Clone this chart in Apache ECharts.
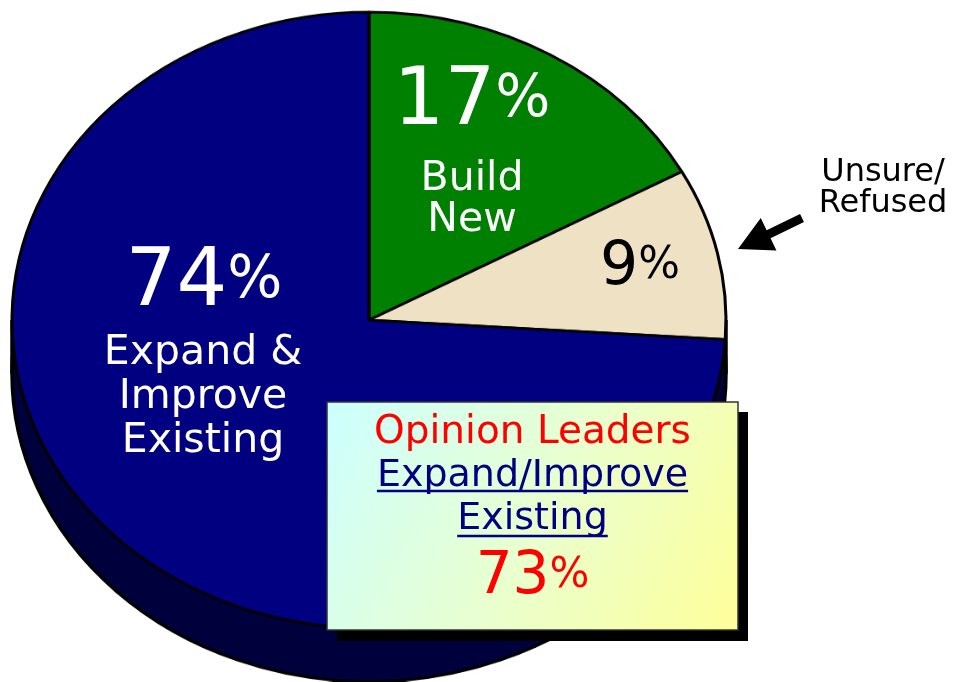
<!DOCTYPE html>
<html lang="en">
<head>
<meta charset="UTF-8" />
<title>Document</title>
<script src="https://cdn.jsdelivr.net/npm/echarts@6/dist/echarts.min.js"></script>
<style>
  html, body { margin: 0; padding: 0; background: #fff; }
  .wrap { position: relative; width: 956px; height: 682px; overflow: hidden; }
  /* pie is drawn round, then squashed into the tilted ellipse */
  .pie { position: absolute; left: 0; top: 0; width: 956px; height: 790px; transform: scaleY(0.8627); transform-origin: 0 0; }
  .labels { position: absolute; left: 0; top: 0; width: 956px; height: 682px; }
</style>
</head>
<body>
<div class="wrap">
  <div class="pie"></div>
  <div class="labels"></div>
</div>
<script>
// data
const categories = ['Build New', 'Unsure/Refused', 'Expand & Improve Existing'];
const values = [17, 9, 74];
const sliceNames = ['Build\nNew', '', 'Expand &\nImprove\nExisting'];
const sideNote = 'Unsure/\nRefused';
const boxTitle = 'Opinion Leaders';
const boxLines = ['Expand/Improve', 'Existing'];
const boxValue = 73;

const FONT = 'DejaVu Sans';
const sliceColors = ['#008000', '#efe1c3', '#000080'];

// pie geometry (unscaled space)
const cx = 369, cy = 371, R = 357, depth = 62;
const total = values.reduce((a, b) => a + b, 0);

const pieChart = echarts.init(document.querySelector('.pie'), null, { width: 956, height: 790 });
pieChart.setOption({
  animation: false,
  graphic: [
    { type: 'rect', shape: { x: cx - R, y: cy, width: 2 * R, height: depth }, style: { fill: '#00003c' } },
    { type: 'line', shape: { x1: cx - R, y1: cy, x2: cx - R, y2: cy + depth }, style: { stroke: '#000', lineWidth: 3.5 } },
    { type: 'line', shape: { x1: cx + R, y1: cy, x2: cx + R, y2: cy + depth }, style: { stroke: '#000', lineWidth: 3.5 } }
  ],
  series: [
    {
      // side / thickness of the pie
      type: 'pie', silent: true, z: 1,
      center: [cx, cy + depth], radius: R, startAngle: 90,
      data: [{ value: total }],
      itemStyle: { color: '#00003c', borderColor: '#000', borderWidth: 3.5 },
      label: { show: false }, labelLine: { show: false }
    },
    {
      type: 'pie', silent: true, z: 2,
      center: [cx, cy], radius: R, startAngle: 90, clockwise: true,
      data: categories.map((c, i) => ({ name: c, value: values[i], itemStyle: { color: sliceColors[i] } })),
      itemStyle: { borderColor: '#000', borderWidth: 3 },
      label: { show: false }, labelLine: { show: false }
    }
  ]
});

// labels, box, arrow (unscaled overlay)
const measure = document.createElement('canvas').getContext('2d');
function textWidth(s, size) {
  measure.font = size + 'px "' + FONT + '"';
  return measure.measureText(s).width;
}
function pctText(v, x, y, big, small, color) {
  return {
    type: 'text', x: x, y: y, z: 10,
    style: {
      text: '{n|' + v + '}{p|%}', align: 'center', verticalAlign: 'middle',
      rich: {
        n: { fontFamily: FONT, fontSize: big, lineHeight: big, fill: color, color: color },
        p: { fontFamily: FONT, fontSize: small, lineHeight: small, fill: color, color: color, padding: [0, 0, Math.round((big - small) * 0.2), 0] }
      }
    }
  };
}
function plainText(s, x, y, size, lh, color) {
  return {
    type: 'text', x: x, y: y, z: 10,
    style: { text: s, font: size + 'px "' + FONT + '"', fill: color, align: 'center', verticalAlign: 'middle', lineHeight: lh }
  };
}

// arrow pointing at the small slice
const tail = [802, 218], tip = [738, 249];
const dx = tip[0] - tail[0], dy = tip[1] - tail[1];
const len = Math.hypot(dx, dy);
const ux = dx / len, uy = dy / len, px = -uy, py = ux;
const headLen = 34, headW = 18, shaftW = 4.5;
const bx = tip[0] - ux * headLen, by = tip[1] - uy * headLen;
const arrowPts = [
  [tail[0] + px * shaftW, tail[1] + py * shaftW],
  [bx + px * shaftW, by + py * shaftW],
  [bx + px * headW, by + py * headW],
  tip,
  [bx - px * headW, by - py * headW],
  [bx - px * shaftW, by - py * shaftW],
  [tail[0] - px * shaftW, tail[1] - py * shaftW]
];

const boxX = 327, boxY = 402, boxW = 411, boxH = 228, boxC = boxX + boxW / 2;
const lineSize = 38;
const w1 = textWidth(boxLines[0], lineSize), w2 = textWidth(boxLines[1], lineSize);

const labelChart = echarts.init(document.querySelector('.labels'), null, { width: 956, height: 682 });
labelChart.setOption({
  animation: false,
  graphic: [
    pctText(values[0], 472, 103, 80, 58, '#fff'),
    plainText(sliceNames[0], 472, 200, 41, 41, '#fff'),
    pctText(values[1], 640, 268, 60, 44, '#000'),
    pctText(values[2], 204, 284, 80, 58, '#fff'),
    plainText(sliceNames[2], 203, 397, 41, 44, '#fff'),
    plainText(sideNote, 883, 188, 32, 31, '#000'),
    { type: 'polygon', z: 10, shape: { points: arrowPts }, style: { fill: '#000' } },
    { type: 'rect', z: 5, shape: { x: boxX + 10, y: boxY + 10, width: boxW, height: boxH + 1 }, style: { fill: '#000' } },
    {
      type: 'rect', z: 6, shape: { x: boxX, y: boxY, width: boxW, height: boxH },
      style: {
        fill: { type: 'linear', x: 0, y: 0, x2: 1, y2: 1, colorStops: [{ offset: 0, color: '#ccffff' }, { offset: 0.5, color: '#e8ffd0' }, { offset: 1, color: '#ffff99' }] },
        stroke: '#333', lineWidth: 1.5
      }
    },
    plainText(boxTitle, boxC, 433, 39, 40, '#ff0000'),
    plainText(boxLines[0], boxC, 476, lineSize, 40, '#000080'),
    plainText(boxLines[1], boxC, 519, lineSize, 40, '#000080'),
    { type: 'line', z: 10, shape: { x1: boxC - w1 / 2, y1: 491, x2: boxC + w1 / 2, y2: 491 }, style: { stroke: '#000080', lineWidth: 2.5 } },
    { type: 'line', z: 10, shape: { x1: boxC - w2 / 2, y1: 536, x2: boxC + w2 / 2, y2: 536 }, style: { stroke: '#000080', lineWidth: 2.5 } },
    pctText(boxValue, boxC, 578, 58, 42, '#ff0000')
  ]
});
</script>
</body>
</html>
